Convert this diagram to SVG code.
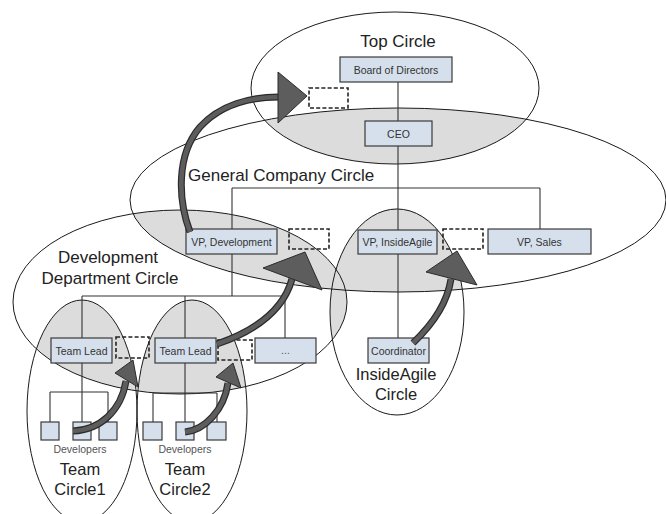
<svg xmlns="http://www.w3.org/2000/svg" width="666" height="514" viewBox="0 0 666 514">
<style>
.bg{fill:#ffffff}
.shade{fill:#dcdcdc;stroke:none}
.circ{fill:none;stroke:#1a1a1a;stroke-width:1}
.line{fill:none;stroke:#333;stroke-width:1.1}
.box{fill:#d6e0ec;stroke:#3a3a3a;stroke-width:1.2}
.dash{fill:none;stroke:#222;stroke-width:1.6;stroke-dasharray:4 2.2}
.bt{font-family:"Liberation Sans",Arial,sans-serif;font-size:10.5px;fill:#333;text-anchor:middle}
.dev{font-family:"Liberation Sans",Arial,sans-serif;font-size:10.5px;fill:#555;text-anchor:middle}
.lab{font-family:"Liberation Sans",Arial,sans-serif;font-size:17px;fill:#222}
.labm{font-family:"Liberation Sans",Arial,sans-serif;font-size:16.5px;fill:#222;text-anchor:middle}
.shO{fill:none;stroke:#2b2b2b;stroke-width:7;stroke-linecap:butt}
.shI{fill:none;stroke:#5d5d5d;stroke-width:4.6;stroke-linecap:butt}
.head{fill:#5d5d5d;stroke:#2b2b2b;stroke-width:1}
</style>
<defs>
<clipPath id="cGen"><ellipse cx="398" cy="200" rx="268" ry="92"/></clipPath>
<clipPath id="cDev"><ellipse cx="180" cy="302" rx="167" ry="92"/></clipPath>
</defs>
<rect class="bg" x="0" y="0" width="666" height="514"/>
<g id="shading">
<g clip-path="url(#cGen)">
<ellipse class="shade" cx="395" cy="88" rx="144" ry="76"/>
<ellipse class="shade" cx="180" cy="302" rx="167" ry="92"/>
</g>
<g clip-path="url(#cDev)">
<ellipse class="shade" cx="82" cy="411" rx="55" ry="111"/>
<ellipse class="shade" cx="192" cy="411" rx="55" ry="111"/>
</g>
<path class="shade" d="M331.6,289.2 A67,103 0 0 1 462.5,289.6 A268,92 0 0 1 331.6,289.2 Z"/>
<path class="shade" d="M336.3,270 A67,103 0 0 0 332.3,339.8 A167,92 0 0 0 336.3,270 Z"/>
</g>
<g id="circles">
<ellipse id="top-circle" class="circ" cx="395" cy="88" rx="144" ry="76"/>
<ellipse id="general-circle" class="circ" cx="398" cy="200" rx="268" ry="92"/>
<ellipse id="dev-circle" class="circ" cx="180" cy="302" rx="167" ry="92"/>
<ellipse id="ia-circle" class="circ" cx="397" cy="312" rx="67" ry="103"/>
<ellipse id="team1-circle" class="circ" cx="82" cy="411" rx="55" ry="111"/>
<ellipse id="team2-circle" class="circ" cx="192" cy="411" rx="55" ry="111"/>
</g>
<g id="connectors">
<path class="line" d="M398,82V121M398,146V230M232,188H540M232,188V229M540,188V229"/>
<path class="line" d="M232,254V296M82,296H285M82,296V338M185,296V338M285,296V338"/>
<path class="line" d="M82,363V422M50,392H108M50,392V422M108,392V422"/>
<path class="line" d="M185,363V422M153,393H217M153,393V422M217,393V422"/>
<path class="line" d="M398,254V338"/>
</g>
<g id="node-board"><rect class="box" x="340" y="57" width="112" height="25"/><text class="bt" x="396" y="73.5">Board of Directors</text></g>
<g id="node-ceo"><rect class="box" x="365" y="121" width="67" height="25"/><text class="bt" x="398.5" y="137.5">CEO</text></g>
<g id="node-vpdev"><rect class="box" x="186" y="229" width="91" height="25"/><text class="bt" x="231.5" y="245.5">VP, Development</text></g>
<g id="node-vpia"><rect class="box" x="358" y="230" width="79" height="24"/><text class="bt" x="397.5" y="246">VP, InsideAgile</text></g>
<g id="node-vpsales"><rect class="box" x="488" y="229" width="103" height="25"/><text class="bt" x="539.5" y="245.5">VP, Sales</text></g>
<g id="node-coord"><rect class="box" x="368" y="338" width="61" height="25"/><text class="bt" x="398.5" y="354.5">Coordinator</text></g>
<g id="node-tl1"><rect class="box" x="51" y="338" width="61" height="25"/><text class="bt" x="81.5" y="354.5">Team Lead</text></g>
<g id="node-tl2"><rect class="box" x="155" y="338" width="61" height="25"/><text class="bt" x="185.5" y="354.5">Team Lead</text></g>
<g id="node-more"><rect class="box" x="255" y="338" width="61" height="25"/><text class="dev" x="285.5" y="353.5">...</text></g>
<g id="node-d1a"><rect class="box" x="41" y="422" width="18" height="18"/></g>
<g id="node-d1b"><rect class="box" x="73" y="422" width="18" height="18"/></g>
<g id="node-d1c"><rect class="box" x="99" y="422" width="18" height="18"/></g>
<g id="node-d2a"><rect class="box" x="143" y="422" width="19" height="18"/></g>
<g id="node-d2b"><rect class="box" x="176" y="422" width="18" height="18"/></g>
<g id="node-d2c"><rect class="box" x="207" y="422" width="19" height="18"/></g>
<g id="dashed">
<rect class="dash" x="309" y="88" width="39" height="20"/>
<rect class="dash" x="289" y="229" width="40" height="20"/>
<rect class="dash" x="443" y="229" width="40" height="20"/>
<rect class="dash" x="116" y="337" width="33" height="21"/>
<rect class="dash" x="218" y="340" width="34" height="20"/>
</g>
<g id="arrows">
<path class="shO" d="M190,232 C178,200 176,155 200,127 C220,105 250,97 279,97"/>
<path class="shI" d="M190,232 C178,200 176,155 200,127 C220,105 250,97 279,97"/>
<polygon class="head" points="307,96 278,72 278,123"/>
<path class="shO" d="M217,344 C252,332 283,312 292,279"/>
<path class="shI" d="M217,344 C252,332 283,312 292,279"/>
<polygon class="head" points="305,252 263,268 322,290"/>
<path class="shO" d="M73,431 C100,430 121,411 126,381"/>
<path class="shI" d="M73,431 C100,430 121,411 126,381"/>
<polygon class="head" points="133,360 115,373 138,387"/>
<path class="shO" d="M185,432 C205,430 224,410 228,383"/>
<path class="shI" d="M185,432 C205,430 224,410 228,383"/>
<polygon class="head" points="233,363 216,377 241,388"/>
<path class="shO" d="M413,343 C432,325 447,305 451,279"/>
<path class="shI" d="M413,343 C432,325 447,305 451,279"/>
<polygon class="head" points="457,251 426,272 477,285"/>
</g>
<g id="labels">
<text class="lab" x="398" y="47" text-anchor="middle">Top Circle</text>
<text class="lab" x="188" y="181">General Company Circle</text>
<text class="lab" x="108" y="263" text-anchor="middle">Development</text>
<text class="lab" x="110" y="284" text-anchor="middle">Department Circle</text>
<text class="labm" x="396" y="380">InsideAgile</text>
<text class="labm" x="396" y="400">Circle</text>
<text class="dev" x="80" y="453">Developers</text>
<text class="labm" x="80" y="475">Team</text>
<text class="labm" x="80" y="495">Circle1</text>
<text class="dev" x="185" y="453">Developers</text>
<text class="labm" x="185" y="475">Team</text>
<text class="labm" x="185" y="495">Circle2</text>
</g>
</svg>
